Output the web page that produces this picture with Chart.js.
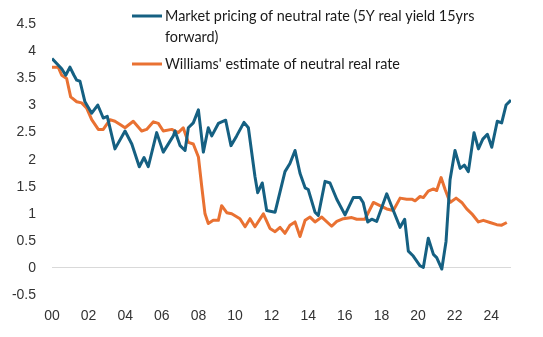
<!DOCTYPE html>
<html>
<head>
<meta charset="utf-8">
<script src="https://cdn.jsdelivr.net/npm/chart.js@4.4.1/dist/chart.umd.min.js"></script>
<style>
  html, body { margin: 0; padding: 0; background: #fff; }
  #wrap { width: 543px; height: 337px; }
</style>
</head>
<body>
<div id="wrap"><canvas id="rate-chart"></canvas></div>
<script>
// series names (first one wraps onto two lines)
const seriesNames = [
    ['Market pricing of neutral rate (5Y real yield 15yrs', 'forward)'],
    ["Williams' estimate of neutral real rate"]
];

// market pricing: year, value
const marketYears = [
    2000.0, 2000.53, 2000.75, 2000.98, 2001.2, 2001.35, 2001.53, 2001.8, 2002.17, 2002.5,
    2002.8, 2003.02, 2003.44, 2003.99, 2004.36, 2004.77, 2005.03, 2005.26, 2005.72, 2006.08,
    2006.63, 2006.72, 2007.0, 2007.27, 2007.45, 2007.72, 2008.0, 2008.27, 2008.54, 2008.73,
    2009.09, 2009.49, 2009.78, 2010.09, 2010.49, 2010.73, 2011.09, 2011.24, 2011.49, 2011.73,
    2012.19, 2012.73, 2013.0, 2013.28, 2013.55, 2013.83, 2014.0, 2014.37, 2014.55, 2014.92,
    2015.19, 2015.56, 2016.01, 2016.46, 2016.83, 2017.0, 2017.25, 2017.47, 2017.74, 2018.29,
    2018.65, 2019.02, 2019.27, 2019.47, 2019.74, 2020.11, 2020.29, 2020.56, 2020.84, 2021.02,
    2021.3, 2021.53, 2021.75, 2022.02, 2022.3, 2022.53, 2022.75, 2023.06, 2023.3, 2023.54,
    2023.79, 2024.03, 2024.33, 2024.57, 2024.81, 2025.08
];
const marketValues = [
    3.87, 3.68, 3.56, 3.71, 3.56, 3.47, 3.45, 3.07, 2.86, 3.01,
    2.77, 2.80, 2.20, 2.53, 2.29, 1.87, 2.04, 1.87, 2.50, 2.14,
    2.44, 2.53, 2.26, 2.17, 2.59, 2.68, 2.92, 2.14, 2.59, 2.44,
    2.67, 2.73, 2.26, 2.44, 2.69, 2.59, 1.69, 1.39, 1.57, 1.06,
    1.03, 1.78, 1.93, 2.17, 1.75, 1.48, 1.45, 1.03, 0.97, 1.60,
    1.57, 1.27, 0.98, 1.30, 1.30, 1.21, 0.85, 0.90, 0.86, 1.37,
    1.06, 0.75, 0.90, 0.31, 0.22, 0.04, 0.01, 0.55, 0.25, 0.19,
    -0.02, 0.49, 1.63, 2.17, 1.84, 1.90, 1.78, 2.50, 2.20, 2.38,
    2.47, 2.23, 2.71, 2.68, 3.01, 3.10
];

// Williams estimate: year, value
const williamsYears = [
    2000.0, 2000.34, 2000.53, 2000.8, 2001.02, 2001.35, 2001.62, 2001.9, 2002.17, 2002.53,
    2002.8, 2003.17, 2003.44, 2003.72, 2003.99, 2004.44, 2004.9, 2005.17, 2005.54, 2005.81,
    2006.08, 2006.54, 2006.9, 2007.17, 2007.45, 2007.72, 2008.0, 2008.18, 2008.36, 2008.54,
    2008.81, 2009.09, 2009.27, 2009.55, 2009.82, 2010.27, 2010.55, 2010.82, 2011.09, 2011.55,
    2011.91, 2012.19, 2012.46, 2012.73, 2013.0, 2013.28, 2013.55, 2013.83, 2014.1, 2014.37,
    2014.74, 2015.28, 2015.56, 2015.92, 2016.38, 2016.65, 2017.1, 2017.56, 2017.92, 2018.29,
    2018.65, 2019.02, 2019.38, 2019.66, 2019.84, 2020.11, 2020.29, 2020.56, 2020.84, 2021.02,
    2021.26, 2021.48, 2021.75, 2022.08, 2022.39, 2022.66, 2022.94, 2023.3, 2023.57, 2023.93,
    2024.3, 2024.57, 2024.85
];
const williamsValues = [
    3.71, 3.71, 3.56, 3.50, 3.16, 3.07, 3.05, 2.95, 2.74, 2.56,
    2.56, 2.74, 2.71, 2.65, 2.59, 2.71, 2.53, 2.56, 2.70, 2.67,
    2.53, 2.56, 2.50, 2.59, 2.32, 2.29, 2.05, 1.51, 1.00, 0.82,
    0.88, 0.88, 1.15, 1.02, 1.00, 0.91, 0.76, 0.91, 0.76, 1.00,
    0.73, 0.67, 0.75, 0.64, 0.79, 0.85, 0.58, 0.88, 0.94, 0.85,
    0.94, 0.77, 0.86, 0.91, 0.93, 0.90, 0.90, 1.21, 1.15, 1.09,
    1.06, 1.29, 1.27, 1.27, 1.24, 1.32, 1.30, 1.42, 1.46, 1.43,
    1.67, 1.45, 1.21, 1.29, 1.21, 1.09, 1.00, 0.85, 0.88, 0.84,
    0.80, 0.79, 0.84
];

const yTicks = [-0.5, 0, 0.5, 1, 1.5, 2, 2.5, 3, 3.5, 4, 4.5];
const xTickYears = [2000, 2002, 2004, 2006, 2008, 2010, 2012, 2014, 2016, 2018, 2020, 2022, 2024];

const blue = '#156082';
const orange = '#E97132';
const tickFont = { family: '"Liberation Sans", Arial, sans-serif', size: 14 };

const toPoints = (xs, ys) => xs.map((x, i) => ({ x: x, y: ys[i] }));

// legend drawn by hand so the long label can wrap under its text only
const wrapLegend = {
    id: 'wrapLegend',
    afterDraw(chart) {
        const c = chart.ctx;
        const rows = [16, 64];
        c.save();
        c.font = '14.4px Lato, "Liberation Sans", sans-serif';
        c.textBaseline = 'middle';
        c.textAlign = 'left';
        chart.data.datasets.forEach((ds, i) => {
            const y = rows[i];
            c.strokeStyle = ds.borderColor;
            c.lineWidth = 3;
            c.beginPath();
            c.moveTo(132, y);
            c.lineTo(162, y);
            c.stroke();
            c.fillStyle = '#1a1a1a';
            seriesNames[i].forEach((line, j) => {
                c.fillText(line, 165, y + j * 21);
            });
        });
        c.restore();
    }
};

const ctx = document.getElementById('rate-chart').getContext('2d');

const config = {
    type: 'line',
    data: {
        datasets: [
            {
                label: seriesNames[0].join(' '),
                data: toPoints(marketYears, marketValues),
                borderColor: blue,
                backgroundColor: blue,
                borderWidth: 3,
                pointRadius: 0,
                tension: 0,
                borderJoinStyle: 'round'
            },
            {
                label: seriesNames[1].join(' '),
                data: toPoints(williamsYears, williamsValues),
                borderColor: orange,
                backgroundColor: orange,
                borderWidth: 3,
                pointRadius: 0,
                tension: 0,
                borderJoinStyle: 'round'
            }
        ]
    },
    options: {
        responsive: true,
        maintainAspectRatio: false,
        animation: false,
        layout: { padding: { left: 0, right: 32, top: 18, bottom: 0 } },
        plugins: {
            legend: { display: false },
            tooltip: { enabled: false }
        },
        scales: {
            x: {
                type: 'linear',
                min: 2000,
                max: 2025.08,
                afterFit: s => { s.height = 42; },
                afterBuildTicks: s => { s.ticks = xTickYears.map(v => ({ value: v })); },
                grid: { display: false },
                border: { display: false },
                ticks: {
                    autoSkip: false,
                    maxRotation: 0,
                    padding: 5,
                    color: '#333',
                    font: tickFont,
                    callback: v => String(v % 100).padStart(2, '0')
                }
            },
            y: {
                min: -0.5,
                max: 4.5,
                afterFit: s => { s.width = 52; },
                afterBuildTicks: s => { s.ticks = yTicks.map(v => ({ value: v })); },
                grid: {
                    drawTicks: false,
                    color: c => (c.tick && c.tick.value === 0 ? '#d9d9d9' : 'rgba(0,0,0,0)'),
                    lineWidth: 1
                },
                border: { display: false },
                ticks: {
                    padding: 16,
                    color: '#333',
                    font: tickFont,
                    callback: v => String(v)
                }
            }
        }
    },
    plugins: [wrapLegend]
};

const rateChart = new Chart(ctx, config);
</script>
</body>
</html>
